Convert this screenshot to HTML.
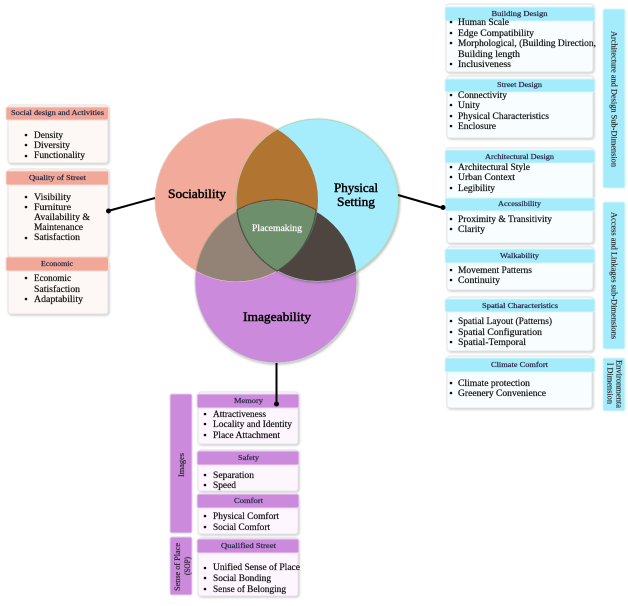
<!DOCTYPE html>
<html><head><meta charset="utf-8"><style>
html,body{margin:0;padding:0;background:#fff;width:628px;height:606px;overflow:hidden}
svg{display:block;filter:blur(.3px)}
text{font-family:"Liberation Serif",serif}
.i{font-size:9px;fill:#111;stroke:#111;stroke-width:.2}
.t{font-size:7.5px;fill:#2c2c4a;stroke:#2c2c4a;stroke-width:.25}
.s{font-size:8px;fill:#222;stroke:#222;stroke-width:.15}
.v{font-size:13px;fill:#000;stroke:#000;stroke-width:.45}
.ba{fill:#fdf8f5;stroke:#e4e4e4;stroke-width:1;filter:url(#sh)}
.bb{fill:#f8feff;stroke:#e4e4e4;stroke-width:1;filter:url(#sh)}
.bc{fill:#fef6fe;stroke:#e4e4e4;stroke-width:1;filter:url(#sh)}
.ha{fill:#f2a899;stroke:#f8d8d0;stroke-width:1}
.hb{fill:#a4ebfb;stroke:#d8f6fc;stroke-width:1}
.hc{fill:#cb8adb;stroke:#ecd4f2;stroke-width:1}
.d{fill:#111}
</style></head><body>
<svg width="628" height="606" viewBox="0 0 628 606" xmlns="http://www.w3.org/2000/svg">
<defs>
<filter id="sh" x="-10%" y="-10%" width="120%" height="120%"><feDropShadow dx="1" dy="1" stdDeviation="1" flood-color="#000" flood-opacity=".22"/></filter>
<filter id="cs" x="-10%" y="-10%" width="120%" height="120%"><feDropShadow dx="1" dy="1" stdDeviation="1.2" flood-color="#000" flood-opacity=".3"/></filter>
<clipPath id="cS"><circle cx="236.5" cy="200" r="81.5"/></clipPath>
<clipPath id="cP"><circle cx="317.5" cy="200" r="81"/></clipPath>
<clipPath id="cSP"><circle cx="317.5" cy="200" r="81" clip-path="url(#cS)"/></clipPath>
</defs>

<!-- venn -->
<circle cx="276" cy="282" r="81" fill="#cb8adb" stroke="#c9d6cc" stroke-width="1" filter="url(#cs)"/>
<circle cx="236.500" cy="200" r="81.500" fill="#f2ab9b" stroke="#e8c8c0" stroke-width="1"/>
<circle cx="317.500" cy="200" r="81" fill="#a5ecfc" stroke="#a8dcb4" stroke-width="1" filter="url(#cs)"/>
<circle cx="317.500" cy="200" r="81" fill="#b17431" clip-path="url(#cS)"/>
<circle cx="276" cy="282" r="81" fill="#938377" stroke="#c8a880" stroke-width="1" clip-path="url(#cS)"/>
<circle cx="276" cy="282" r="81" fill="#4e4540" clip-path="url(#cP)"/>
<circle cx="276" cy="282" r="81" fill="#6e8f6c" clip-path="url(#cSP)"/>
<path d="M237 210 A81 81 0 0 1 316 210 A81.500 81.500 0 0 1 277 271 A81 81 0 0 1 237 210 Z" fill="none" stroke="#4a5548" stroke-width="1.200"/>
<text class="v" x="168" y="198" textLength="58" lengthAdjust="spacingAndGlyphs">Sociability</text>
<text class="v" x="334" y="192" textLength="44" lengthAdjust="spacingAndGlyphs">Physical</text>
<text class="v" x="337" y="206" textLength="38" lengthAdjust="spacingAndGlyphs">Setting</text>
<text class="v" x="243" y="321" textLength="68" lengthAdjust="spacingAndGlyphs">Imageability</text>
<text x="252" y="231" textLength="50" lengthAdjust="spacingAndGlyphs" style="font-size:9px;fill:#fff;stroke:#fff;stroke-width:.2">Placemaking</text>

<!-- left cards -->
<rect class="ba" x="8" y="105" width="100" height="58" rx="3"/>
<rect class="ha" x="6" y="107" width="102.500" height="13" rx="2"/>
<text class="t" x="11" y="115" textLength="93" lengthAdjust="spacingAndGlyphs">Social design and Activities</text>
<circle class="d" cx="26" cy="135" r="1.300"/><text class="i" x="34" y="138" textLength="29" lengthAdjust="spacingAndGlyphs">Density</text>
<circle class="d" cx="26" cy="145" r="1.300"/><text class="i" x="34" y="148" textLength="36" lengthAdjust="spacingAndGlyphs">Diversity</text>
<circle class="d" cx="26" cy="156" r="1.300"/><text class="i" x="34" y="158" textLength="51" lengthAdjust="spacingAndGlyphs">Functionality</text>

<rect class="ba" x="8" y="169" width="100" height="88" rx="3"/>
<rect class="ba" x="8" y="260" width="100" height="54" rx="3"/>
<rect class="ha" x="6" y="171" width="102.500" height="14" rx="2"/>
<text class="t" x="29" y="180" textLength="57" lengthAdjust="spacingAndGlyphs">Quality of Street</text>
<circle class="d" cx="26" cy="197" r="1.300"/><text class="i" x="34" y="200" textLength="37" lengthAdjust="spacingAndGlyphs">Visibility</text>
<circle class="d" cx="26" cy="207" r="1.300"/><text class="i" x="34" y="210" textLength="37" lengthAdjust="spacingAndGlyphs">Furniture</text>
<text class="i" x="34" y="220" textLength="56" lengthAdjust="spacingAndGlyphs">Availability &amp;</text>
<text class="i" x="34" y="230" textLength="49" lengthAdjust="spacingAndGlyphs">Maintenance</text>
<circle class="d" cx="26" cy="238" r="1.300"/><text class="i" x="34" y="240" textLength="46" lengthAdjust="spacingAndGlyphs">Satisfaction</text>
<rect class="ha" x="6" y="257" width="102.500" height="14" rx="2"/>
<text class="t" x="41" y="266" textLength="32" lengthAdjust="spacingAndGlyphs">Economic</text>
<circle class="d" cx="26" cy="278" r="1.300"/><text class="i" x="34" y="281" textLength="37" lengthAdjust="spacingAndGlyphs">Economic</text>
<text class="i" x="34" y="292" textLength="46" lengthAdjust="spacingAndGlyphs">Satisfaction</text>
<circle class="d" cx="26" cy="299" r="1.300"/><text class="i" x="34" y="302" textLength="49" lengthAdjust="spacingAndGlyphs">Adaptability</text>

<!-- right cards -->
<rect class="bb" x="446" y="4" width="147" height="68" rx="3"/>
<rect class="hb" x="445" y="7" width="150" height="14" rx="2"/>
<text class="t" x="491.500" y="16" textLength="56" lengthAdjust="spacingAndGlyphs">Building Design</text>
<circle class="d" cx="451" cy="22" r="1.300"/><text class="i" x="458" y="25" textLength="51" lengthAdjust="spacingAndGlyphs">Human Scale</text>
<circle class="d" cx="451" cy="33" r="1.300"/><text class="i" x="458" y="36" textLength="76" lengthAdjust="spacingAndGlyphs">Edge Compatibility</text>
<circle class="d" cx="451" cy="43" r="1.300"/><text class="i" x="458" y="46" textLength="138" lengthAdjust="spacingAndGlyphs">Morphological, (Building Direction,</text>
<text class="i" x="458" y="57" textLength="62" lengthAdjust="spacingAndGlyphs">Building length</text>
<circle class="d" cx="451" cy="64" r="1.300"/><text class="i" x="458" y="67" textLength="53" lengthAdjust="spacingAndGlyphs">Inclusiveness</text>

<rect class="bb" x="447" y="76" width="146" height="62" rx="3"/>
<rect class="hb" x="445" y="79" width="150" height="13" rx="2"/>
<text class="t" x="497" y="87" textLength="45" lengthAdjust="spacingAndGlyphs">Street Design</text>
<circle class="d" cx="451" cy="95" r="1.300"/><text class="i" x="458" y="98" textLength="49" lengthAdjust="spacingAndGlyphs">Connectivity</text>
<circle class="d" cx="451" cy="105" r="1.300"/><text class="i" x="458" y="108" textLength="22" lengthAdjust="spacingAndGlyphs">Unity</text>
<circle class="d" cx="451" cy="116" r="1.300"/><text class="i" x="458" y="119" textLength="91" lengthAdjust="spacingAndGlyphs">Physical Characteristics</text>
<circle class="d" cx="451" cy="126" r="1.300"/><text class="i" x="458" y="129" textLength="38" lengthAdjust="spacingAndGlyphs">Enclosure</text>

<rect class="bb" x="446" y="148" width="147" height="52" rx="3"/>
<rect class="bb" x="447" y="200" width="146" height="43" rx="3"/>
<rect class="hb" x="445" y="150" width="150" height="13" rx="2"/>
<text class="t" x="485" y="159" textLength="69" lengthAdjust="spacingAndGlyphs">Architectural Design</text>
<circle class="d" cx="451" cy="167" r="1.300"/><text class="i" x="458" y="170" textLength="72" lengthAdjust="spacingAndGlyphs">Architectural Style</text>
<circle class="d" cx="451" cy="177" r="1.300"/><text class="i" x="458" y="180" textLength="57" lengthAdjust="spacingAndGlyphs">Urban Context</text>
<circle class="d" cx="451" cy="188" r="1.300"/><text class="i" x="458" y="191" textLength="37" lengthAdjust="spacingAndGlyphs">Legibility</text>
<rect class="hb" x="445" y="198" width="150" height="13" rx="2"/>
<text class="t" x="498" y="206" textLength="43" lengthAdjust="spacingAndGlyphs">Accessibility</text>
<circle class="d" cx="451" cy="219" r="1.300"/><text class="i" x="458" y="222" textLength="94" lengthAdjust="spacingAndGlyphs">Proximity &amp; Transitivity</text>
<circle class="d" cx="451" cy="229" r="1.300"/><text class="i" x="458" y="232" textLength="27" lengthAdjust="spacingAndGlyphs">Clarity</text>

<rect class="bb" x="447" y="247" width="146" height="43" rx="3"/>
<rect class="hb" x="445" y="249" width="150" height="14" rx="2"/>
<text class="t" x="500" y="258" textLength="39" lengthAdjust="spacingAndGlyphs">Walkability</text>
<circle class="d" cx="451" cy="270" r="1.300"/><text class="i" x="458" y="273" textLength="74" lengthAdjust="spacingAndGlyphs">Movement Patterns</text>
<circle class="d" cx="451" cy="280" r="1.300"/><text class="i" x="458" y="283" textLength="42" lengthAdjust="spacingAndGlyphs">Continuity</text>

<rect class="bb" x="447" y="297" width="146" height="54" rx="3"/>
<rect class="hb" x="445" y="299" width="150" height="13" rx="2"/>
<text class="t" x="482" y="308" textLength="76" lengthAdjust="spacingAndGlyphs">Spatial Characteristics</text>
<circle class="d" cx="451" cy="321" r="1.300"/><text class="i" x="458" y="324" textLength="94" lengthAdjust="spacingAndGlyphs">Spatial Layout (Patterns)</text>
<circle class="d" cx="451" cy="332" r="1.300"/><text class="i" x="458" y="335" textLength="84" lengthAdjust="spacingAndGlyphs">Spatial Configuration</text>
<circle class="d" cx="451" cy="342" r="1.300"/><text class="i" x="458" y="345" textLength="68" lengthAdjust="spacingAndGlyphs">Spatial-Temporal</text>

<rect class="bb" x="447" y="356" width="145" height="52" rx="3"/>
<rect class="hb" x="445" y="358" width="150" height="14" rx="2"/>
<text class="t" x="491" y="367" textLength="57" lengthAdjust="spacingAndGlyphs">Climate Comfort</text>
<circle class="d" cx="451" cy="383" r="1.300"/><text class="i" x="458" y="386" textLength="72" lengthAdjust="spacingAndGlyphs">Climate protection</text>
<circle class="d" cx="451" cy="393" r="1.300"/><text class="i" x="458" y="396" textLength="88" lengthAdjust="spacingAndGlyphs">Greenery Convenience</text>

<!-- right sidebars -->
<rect x="603" y="9" width="22" height="179" rx="2" fill="#a4ebfb" stroke="#d4f4fb"/>
<text class="s" transform="translate(611.500,31) rotate(90)" textLength="136" lengthAdjust="spacingAndGlyphs">Architecture and Design Sub-Dimension</text>
<rect x="603" y="202" width="22" height="147" rx="2" fill="#a4ebfb" stroke="#d4f4fb"/>
<text class="s" transform="translate(611.500,212) rotate(90)" textLength="127" lengthAdjust="spacingAndGlyphs">Access and Linkages sub-Dimensions</text>
<rect x="603" y="358" width="22" height="53" rx="2" fill="#a4ebfb" stroke="#d4f4fb"/>
<text class="s" transform="translate(616.500,360) rotate(90)" textLength="48" lengthAdjust="spacingAndGlyphs">Environmenta</text>
<text class="s" transform="translate(607.500,363) rotate(90)" textLength="41" lengthAdjust="spacingAndGlyphs">l Dimension</text>

<!-- bottom cards -->
<rect x="170" y="394" width="22" height="139" rx="2" fill="#cb8adb" stroke="#e6cdec"/>
<text class="s" transform="translate(184,477) rotate(-90)" textLength="24" lengthAdjust="spacingAndGlyphs">Images</text>
<rect x="170" y="537" width="22" height="58" rx="2" fill="#cb8adb" stroke="#e6cdec"/>
<text class="s" transform="translate(180,591) rotate(-90)" textLength="48" lengthAdjust="spacingAndGlyphs">Sense of Place</text>
<text class="s" transform="translate(190,575) rotate(-90)" textLength="18" lengthAdjust="spacingAndGlyphs">(SOP)</text>

<rect class="bc" x="198" y="392" width="100" height="52" rx="3"/>
<rect class="hc" x="197" y="394" width="102" height="14" rx="2"/>
<text class="t" x="234" y="403" textLength="29" lengthAdjust="spacingAndGlyphs">Memory</text>
<circle class="d" cx="205" cy="414" r="1.300"/><text class="i" x="213" y="417" textLength="53" lengthAdjust="spacingAndGlyphs">Attractiveness</text>
<circle class="d" cx="205" cy="424" r="1.300"/><text class="i" x="213" y="427" textLength="79" lengthAdjust="spacingAndGlyphs">Locality and Identity</text>
<circle class="d" cx="205" cy="435" r="1.300"/><text class="i" x="213" y="438" textLength="67" lengthAdjust="spacingAndGlyphs">Place Attachment</text>

<rect class="bc" x="198" y="450" width="100" height="41" rx="3"/>
<rect class="bc" x="198" y="496" width="100" height="38" rx="3"/>
<rect class="hc" x="197" y="451" width="102" height="14" rx="2"/>
<text class="t" x="238" y="460" textLength="21" lengthAdjust="spacingAndGlyphs">Safety</text>
<circle class="d" cx="205" cy="475" r="1.300"/><text class="i" x="213" y="478" textLength="41" lengthAdjust="spacingAndGlyphs">Separation</text>
<circle class="d" cx="205" cy="485" r="1.300"/><text class="i" x="213" y="488" textLength="23" lengthAdjust="spacingAndGlyphs">Speed</text>
<rect class="hc" x="197" y="494" width="102" height="14" rx="2"/>
<text class="t" x="234" y="503" textLength="29" lengthAdjust="spacingAndGlyphs">Comfort</text>
<circle class="d" cx="205" cy="516" r="1.300"/><text class="i" x="213" y="519" textLength="66" lengthAdjust="spacingAndGlyphs">Physical Comfort</text>
<circle class="d" cx="205" cy="527" r="1.300"/><text class="i" x="213" y="530" textLength="57" lengthAdjust="spacingAndGlyphs">Social Comfort</text>

<rect class="bc" x="198" y="538" width="100" height="58" rx="3"/>
<rect class="hc" x="197" y="539" width="102" height="14" rx="2"/>
<text class="t" x="221" y="548" textLength="55" lengthAdjust="spacingAndGlyphs">Qualified Street</text>
<circle class="d" cx="205" cy="568" r="1.300"/><text class="i" x="213" y="570" textLength="87" lengthAdjust="spacingAndGlyphs">Unified Sense of Place</text>
<circle class="d" cx="205" cy="578" r="1.300"/><text class="i" x="213" y="581" textLength="58" lengthAdjust="spacingAndGlyphs">Social Bonding</text>
<circle class="d" cx="205" cy="589" r="1.300"/><text class="i" x="213" y="592" textLength="73" lengthAdjust="spacingAndGlyphs">Sense of Belonging</text>

<!-- connectors on top -->
<line x1="108" y1="211" x2="155" y2="198" stroke="#000" stroke-width="2"/><circle cx="108.500" cy="211" r="2.500" fill="#000"/>
<line x1="398" y1="195" x2="443" y2="208" stroke="#000" stroke-width="2"/><circle cx="443" cy="207.500" r="2.500" fill="#000"/>
<line x1="276.500" y1="363" x2="276.500" y2="404" stroke="#000" stroke-width="2"/><circle cx="276.500" cy="404" r="2.500" fill="#000"/>
</svg>
</body></html>
